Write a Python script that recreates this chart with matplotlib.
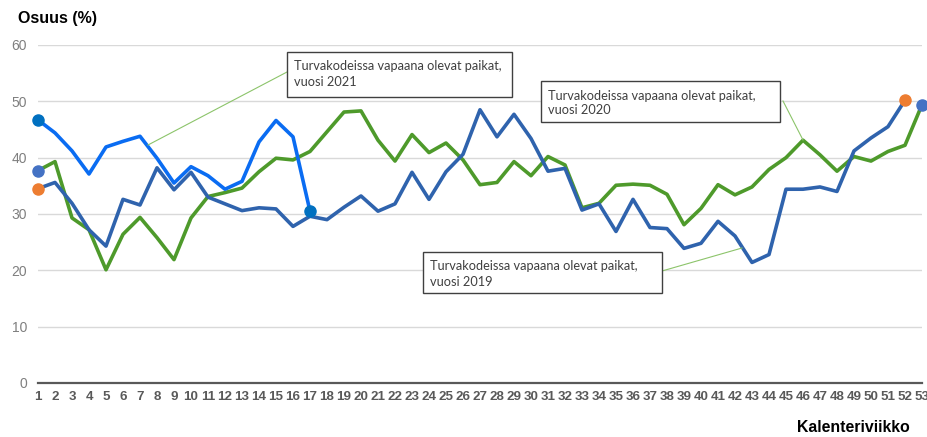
import numpy as np
import matplotlib.pyplot as plt
from matplotlib.patches import Rectangle

weeks_2021 = list(range(1, 18))
share_2021 = [46.7, 44.4, 41.2, 37.1, 41.9, 42.9, 43.8, 39.9, 35.5, 38.4, 36.8, 34.4, 35.8,
              42.8, 46.6, 43.7, 30.5]

weeks_2020 = list(range(1, 54))
share_2020 = [37.7, 39.3, 29.3, 27.2, 20.1, 26.4, 29.4, 25.8, 21.9, 29.3, 33.1, 33.8, 34.6,
              37.5, 39.9, 39.6, 41.1, 44.6, 48.1, 48.3, 43.1, 39.4, 44.1, 40.9, 42.6, 39.6,
              35.2, 35.6, 39.3, 36.8, 40.2, 38.7, 31.1, 31.9, 35.1, 35.3, 35.1, 33.5, 28.1,
              31.0, 35.2, 33.4, 34.8, 37.9, 40.0, 43.1, 40.5, 37.6, 40.2, 39.4, 41.1, 42.2,
              49.4]

weeks_2019 = list(range(1, 53))
share_2019 = [34.5, 35.6, 31.9, 27.2, 24.3, 32.6, 31.6, 38.2, 34.3, 37.4, 33.0, 31.8, 30.6,
              31.1, 30.9, 27.8, 29.6, 29.0, 31.2, 33.2, 30.5, 31.8, 37.4, 32.6, 37.5, 40.6,
              48.5, 43.7, 47.7, 43.4, 37.6, 38.1, 30.7, 31.8, 26.9, 32.6, 27.6, 27.4, 23.9,
              24.8, 28.7, 26.1, 21.4, 22.8, 34.4, 34.4, 34.8, 34.0, 41.2, 43.5, 45.5, 50.2]

xticks = list(range(1, 54))
yticks = [0, 10, 20, 30, 40, 50, 60]

W, H = 928, 437
fig = plt.figure(figsize=(W / 100, H / 100), dpi=100)
ax = fig.add_axes([38 / W, 1 - 383 / H, (922 - 38) / W, (383 - 45) / H])

c2021 = '#0a6cf2'
c2020 = '#4e9a2b'
c2019 = '#2f63ad'
lw = 2.6

ax.plot(weeks_2020, share_2020, color=c2020, lw=lw, solid_joinstyle='round', zorder=3)
ax.plot(weeks_2019, share_2019, color=c2019, lw=lw, solid_joinstyle='round', zorder=4)
ax.plot(weeks_2021, share_2021, color=c2021, lw=lw, solid_joinstyle='round', zorder=5)

# end point markers
ax.plot([weeks_2021[0], weeks_2021[-1]], [share_2021[0], share_2021[-1]], 'o',
        color='#0070c0', ms=8, zorder=6, clip_on=False)
ax.plot([weeks_2019[0], weeks_2019[-1]], [share_2019[0], share_2019[-1]], 'o',
        color='#ed7d31', ms=8, zorder=6, clip_on=False)
ax.plot([weeks_2020[0], weeks_2020[-1]], [share_2020[0], share_2020[-1]], 'o',
        color='#4472c4', ms=8, zorder=6, clip_on=False)

ax.set_xlim(1, 53)
ax.set_ylim(0, 60)
ax.set_yticks(yticks)
ax.set_xticks(xticks)
ax.set_xticklabels([str(w) for w in xticks], fontsize=9.6, fontweight='bold',
                   color='#595959', family='Liberation Sans')
ax.set_yticklabels([str(v) for v in yticks], fontsize=10, color='#7f7f7f',
                   family='Liberation Sans')
ax.tick_params(axis='both', length=0)
ax.tick_params(axis='x', pad=6)
ax.tick_params(axis='y', pad=8)
ax.grid(axis='y', color='#d9d9d9', lw=1)
ax.set_axisbelow(True)
for s in ['top', 'right', 'left']:
    ax.spines[s].set_visible(False)
ax.spines['bottom'].set_color('#595959')
ax.spines['bottom'].set_linewidth(1.6)
ax.spines['bottom'].set_zorder(2)

fig.text(18 / W, 1 - 18 / H, 'Osuus (%)', fontsize=11.5, fontweight='bold',
         family='Liberation Sans', va='center', ha='left')
fig.text(910 / W, 1 - 427 / H, 'Kalenteriviikko', fontsize=11.4, fontweight='bold',
         family='Liberation Sans', va='center', ha='right')

# callout boxes with leader lines
callouts = [
    ((287, 52, 512, 97), 'Turvakodeissa vapaana olevat paikat,\nvuosi 2021', (287, 72), (148, 145)),
    ((541, 81, 780, 122), 'Turvakodeissa vapaana olevat paikat,\nvuosi 2020', (783, 101), (803, 140)),
    ((423, 252, 662, 293), 'Turvakodeissa vapaana olevat paikat,\nvuosi 2019', (662, 271), (742, 248)),
]
for (x0, y0, x1, y1), txt, p0, p1 in callouts:
    fig.add_artist(Rectangle((x0 / W, 1 - y1 / H), (x1 - x0) / W, (y1 - y0) / H,
                             transform=fig.transFigure, facecolor='white',
                             edgecolor='#404040', lw=1, zorder=10))
    fig.text((x0 + 7) / W, 1 - (y0 + 22) / H, txt, fontsize=9.2, color='#404040',
             family='Lato', va='center', ha='left', linespacing=1.3, zorder=11)
    fig.add_artist(plt.Line2D([p0[0] / W, p1[0] / W], [1 - p0[1] / H, 1 - p1[1] / H],
                              transform=fig.transFigure, color='#8cc46a', lw=0.8, zorder=9))

fig.savefig('out.png', dpi=100)
